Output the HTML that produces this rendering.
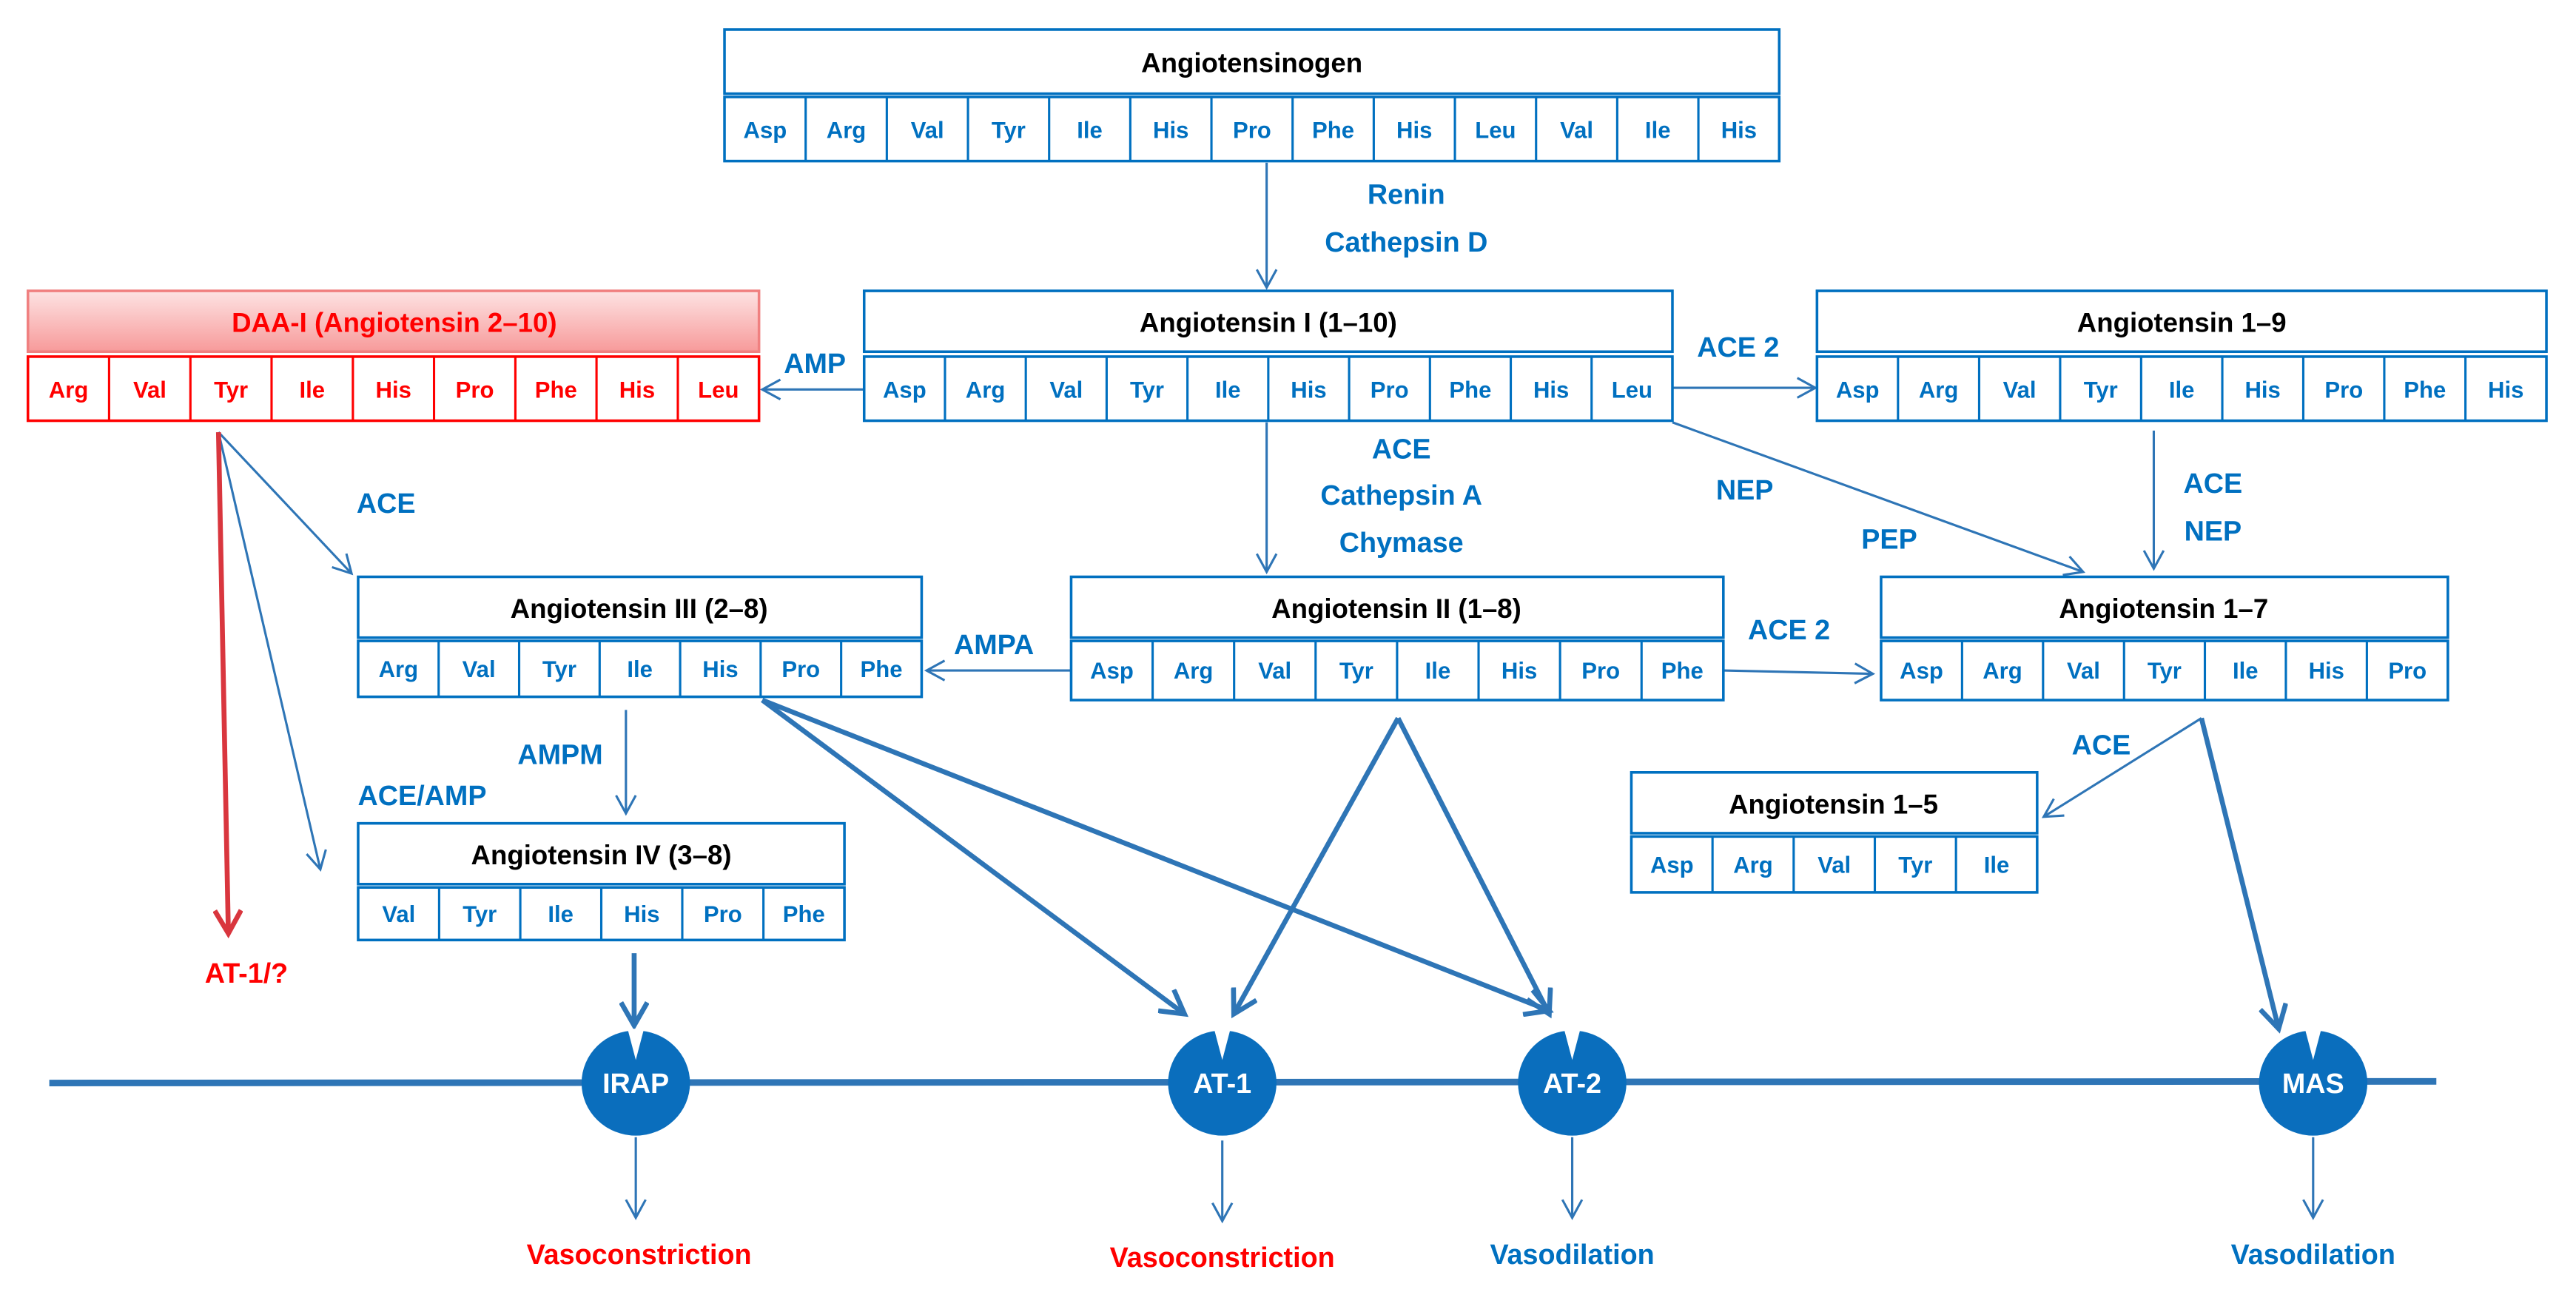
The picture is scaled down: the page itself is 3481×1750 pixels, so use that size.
<!DOCTYPE html>
<html><head><meta charset="utf-8"><style>html,body{margin:0;padding:0;background:#fff}svg{display:block}</style></head><body>
<svg width="3481" height="1750" viewBox="0 0 1568 788" preserveAspectRatio="none" xmlns="http://www.w3.org/2000/svg" font-family="'Liberation Sans', sans-serif" font-weight="bold">
<defs>
<marker id="a" markerWidth="14" markerHeight="14" refX="12" refY="7" orient="auto" markerUnits="userSpaceOnUse"><path d="M1,1 L12,7 L1,13" fill="none" stroke="#2E75B6" stroke-width="1.4"/></marker>
<marker id="t" markerWidth="18" markerHeight="18" refX="15" refY="9" orient="auto" markerUnits="userSpaceOnUse"><path d="M1,1 L15,9 L1,17" fill="none" stroke="#2E75B6" stroke-width="3"/></marker>
<marker id="r" markerWidth="18" markerHeight="18" refX="15" refY="9" orient="auto" markerUnits="userSpaceOnUse"><path d="M1,1 L15,9 L1,17" fill="none" stroke="#D9363E" stroke-width="3"/></marker>
<linearGradient id="pg" x1="0" y1="0" x2="0" y2="1"><stop offset="0" stop-color="#FDE3E3"/><stop offset="1" stop-color="#F79A9A"/></linearGradient>
</defs>

<!-- connectors -->
<g stroke="#2E75B6" stroke-width="1.4" fill="none" marker-end="url(#a)">
<line x1="771" y1="99" x2="771" y2="175"/>
<line x1="526" y1="237" x2="464" y2="237"/>
<line x1="1018" y1="236" x2="1105" y2="236"/>
<line x1="1018" y1="257" x2="1268" y2="348"/>
<line x1="1311" y1="262" x2="1311" y2="346"/>
<line x1="771" y1="257" x2="771" y2="348"/>
<line x1="652" y1="408" x2="564" y2="408"/>
<line x1="1049" y1="408" x2="1140" y2="410"/>
<line x1="133" y1="263" x2="214" y2="349"/>
<line x1="133" y1="263" x2="195" y2="529"/>
<line x1="381" y1="432" x2="381" y2="495"/>
<line x1="1340" y1="437" x2="1244" y2="497"/>
<line x1="387" y1="692" x2="387" y2="741"/>
<line x1="744" y1="694" x2="744" y2="743"/>
<line x1="957" y1="692" x2="957" y2="741"/>
<line x1="1408" y1="692" x2="1408" y2="741"/>
</g>
<g stroke="#2E75B6" stroke-width="3" fill="none" marker-end="url(#t)">
<line x1="464" y1="426" x2="721" y2="617"/>
<line x1="464" y1="426" x2="943" y2="615"/>
<line x1="851" y1="437" x2="751" y2="617"/>
<line x1="851" y1="437" x2="943" y2="617"/>
<line x1="1340" y1="437" x2="1387" y2="626"/>
<line x1="386" y1="580" x2="386" y2="624"/>
</g>
<line x1="133" y1="263" x2="139" y2="568" stroke="#D9363E" stroke-width="3" marker-end="url(#r)"/>

<!-- membrane -->
<line x1="30" y1="659" x2="1483" y2="658" stroke="#2E75B6" stroke-width="4"/>
<g fill="#0A6EBD">
<ellipse cx="387" cy="659" rx="33" ry="32"/><ellipse cx="744" cy="659" rx="33" ry="32"/><ellipse cx="957" cy="659" rx="33" ry="32"/><ellipse cx="1408" cy="659" rx="33" ry="32"/>
</g>
<g fill="#fff">
<polygon points="382,626 392,626 387,645"/><polygon points="739,626 749,626 744,645"/><polygon points="952,626 962,626 957,645"/><polygon points="1403,626 1413,626 1408,645"/>
</g>
<g fill="#fff" font-size="17" text-anchor="middle">
<text x="387" y="665">IRAP</text><text x="744" y="665">AT-1</text><text x="957" y="665">AT-2</text><text x="1408" y="665">MAS</text>
</g>

<!-- boxes -->
<g fill="#fff" stroke="#0070C0" stroke-width="1.6">
<rect x="441" y="18" width="642" height="39"/><rect x="441" y="59" width="642" height="39"/>
<rect x="526" y="177" width="492" height="37"/><rect x="526" y="217" width="492" height="39"/>
<rect x="1106" y="177" width="444" height="37"/><rect x="1106" y="217" width="444" height="39"/>
<rect x="652" y="351" width="397" height="37"/><rect x="652" y="390" width="397" height="36"/>
<rect x="1145" y="351" width="345" height="37"/><rect x="1145" y="390" width="345" height="36"/>
<rect x="218" y="351" width="343" height="37"/><rect x="218" y="390" width="343" height="34"/>
<rect x="218" y="501" width="296" height="37"/><rect x="218" y="540" width="296" height="32"/>
<rect x="993" y="470" width="247" height="37"/><rect x="993" y="509" width="247" height="34"/>
</g>
<rect x="17" y="177" width="445" height="37" fill="url(#pg)" stroke="#F08080" stroke-width="1.6"/>
<rect x="17" y="217" width="445" height="39" fill="#fff" stroke="#FF0000" stroke-width="1.6"/>
<path stroke="#0070C0" stroke-width="1.4" d="M490.4,59V98M539.8,59V98M589.2,59V98M638.6,59V98M688,59V98M737.4,59V98M786.8,59V98M836.2,59V98M885.6,59V98M935,59V98M984.4,59V98M1033.8,59V98
M575.2,217V256M624.4,217V256M673.6,217V256M722.8,217V256M772,217V256M821.2,217V256M870.4,217V256M919.6,217V256M968.8,217V256
M1155.3,217V256M1204.7,217V256M1254,217V256M1303.3,217V256M1352.7,217V256M1402,217V256M1451.3,217V256M1500.7,217V256
M701.6,390V426M751.2,390V426M800.8,390V426M850.4,390V426M900,390V426M949.6,390V426M999.2,390V426
M1194.3,390V426M1243.6,390V426M1292.9,390V426M1342.1,390V426M1391.4,390V426M1440.7,390V426
M267,390V424M316,390V424M365,390V424M414,390V424M463,390V424M512,390V424
M267.3,540V572M316.7,540V572M366,540V572M415.3,540V572M464.7,540V572
M1042.4,509V543M1091.8,509V543M1141.2,509V543M1190.6,509V543"/>
<path stroke="#FF0000" stroke-width="1.4" d="M66.4,217V256M115.9,217V256M165.3,217V256M214.8,217V256M264.2,217V256M313.7,217V256M363.1,217V256M412.6,217V256"/>

<!-- titles -->
<g fill="#000" font-size="16.5" text-anchor="middle">
<text x="762" y="44">Angiotensinogen</text>
<text x="772" y="202">Angiotensin I (1–10)</text>
<text x="1328" y="202">Angiotensin 1–9</text>
<text x="850" y="376">Angiotensin II  (1–8)</text>
<text x="1317" y="376">Angiotensin 1–7</text>
<text x="389" y="376">Angiotensin III  (2–8)</text>
<text x="366" y="526">Angiotensin IV  (3–8)</text>
<text x="1116" y="495">Angiotensin 1–5</text>
</g>
<text x="240" y="202" fill="#FF0000" font-size="16.5" text-anchor="middle">DAA-I (Angiotensin 2–10)</text>

<!-- cells -->
<g fill="#0070C0" font-size="14" text-anchor="middle">
<g transform="translate(0,84)"><text x="465.7">Asp</text><text x="515.1">Arg</text><text x="564.5">Val</text><text x="613.9">Tyr</text><text x="663.3">Ile</text><text x="712.7">His</text><text x="762.1">Pro</text><text x="811.5">Phe</text><text x="860.9">His</text><text x="910.3">Leu</text><text x="959.7">Val</text><text x="1009.1">Ile</text><text x="1058.5">His</text></g>
<g transform="translate(0,242)"><text x="550.6">Asp</text><text x="599.8">Arg</text><text x="649">Val</text><text x="698.2">Tyr</text><text x="747.4">Ile</text><text x="796.6">His</text><text x="845.8">Pro</text><text x="895">Phe</text><text x="944.2">His</text><text x="993.4">Leu</text>
<text x="1130.7">Asp</text><text x="1180">Arg</text><text x="1229.3">Val</text><text x="1278.7">Tyr</text><text x="1328">Ile</text><text x="1377.3">His</text><text x="1426.7">Pro</text><text x="1476">Phe</text><text x="1525.3">His</text></g>
<g transform="translate(0,413)"><text x="676.8">Asp</text><text x="726.4">Arg</text><text x="776">Val</text><text x="825.6">Tyr</text><text x="875.2">Ile</text><text x="924.8">His</text><text x="974.4">Pro</text><text x="1024">Phe</text>
<text x="1169.6">Asp</text><text x="1218.9">Arg</text><text x="1268.2">Val</text><text x="1317.5">Tyr</text><text x="1366.8">Ile</text><text x="1416.1">His</text><text x="1465.4">Pro</text></g>
<g transform="translate(0,412)"><text x="242.5">Arg</text><text x="291.5">Val</text><text x="340.5">Tyr</text><text x="389.5">Ile</text><text x="438.5">His</text><text x="487.5">Pro</text><text x="536.5">Phe</text></g>
<g transform="translate(0,561)"><text x="242.7">Val</text><text x="292">Tyr</text><text x="341.3">Ile</text><text x="390.7">His</text><text x="440">Pro</text><text x="489.3">Phe</text></g>
<g transform="translate(0,531)"><text x="1017.7">Asp</text><text x="1067.1">Arg</text><text x="1116.5">Val</text><text x="1165.9">Tyr</text><text x="1215.3">Ile</text></g>
</g>
<g fill="#FF0000" font-size="14" text-anchor="middle" transform="translate(0,242)">
<text x="41.7">Arg</text><text x="91.2">Val</text><text x="140.6">Tyr</text><text x="190">Ile</text><text x="239.5">His</text><text x="289">Pro</text><text x="338.4">Phe</text><text x="387.8">His</text><text x="437.3">Leu</text>
</g>

<!-- enzyme labels -->
<g fill="#0070C0" font-size="17" text-anchor="middle">
<text x="856" y="124">Renin</text><text x="856" y="153">Cathepsin D</text>
<text x="496" y="227">AMP</text><text x="1058" y="217">ACE 2</text>
<text x="1062" y="304">NEP</text><text x="1150" y="334">PEP</text>
<text x="1347" y="300">ACE</text><text x="1347" y="329">NEP</text>
<text x="853" y="279">ACE</text><text x="853" y="307">Cathepsin A</text><text x="853" y="336">Chymase</text>
<text x="605" y="398">AMPA</text><text x="1089" y="389">ACE 2</text>
<text x="235" y="312">ACE</text><text x="257" y="490">ACE/AMP</text><text x="341" y="465">AMPM</text>
<text x="1279" y="459">ACE</text>
<text x="957" y="769">Vasodilation</text><text x="1408" y="769">Vasodilation</text>
</g>
<g fill="#FF0000" font-size="17" text-anchor="middle">
<text x="150" y="598">AT-1/?</text>
<text x="389" y="769">Vasoconstriction</text><text x="744" y="771">Vasoconstriction</text>
</g>
</svg>
</body></html>
